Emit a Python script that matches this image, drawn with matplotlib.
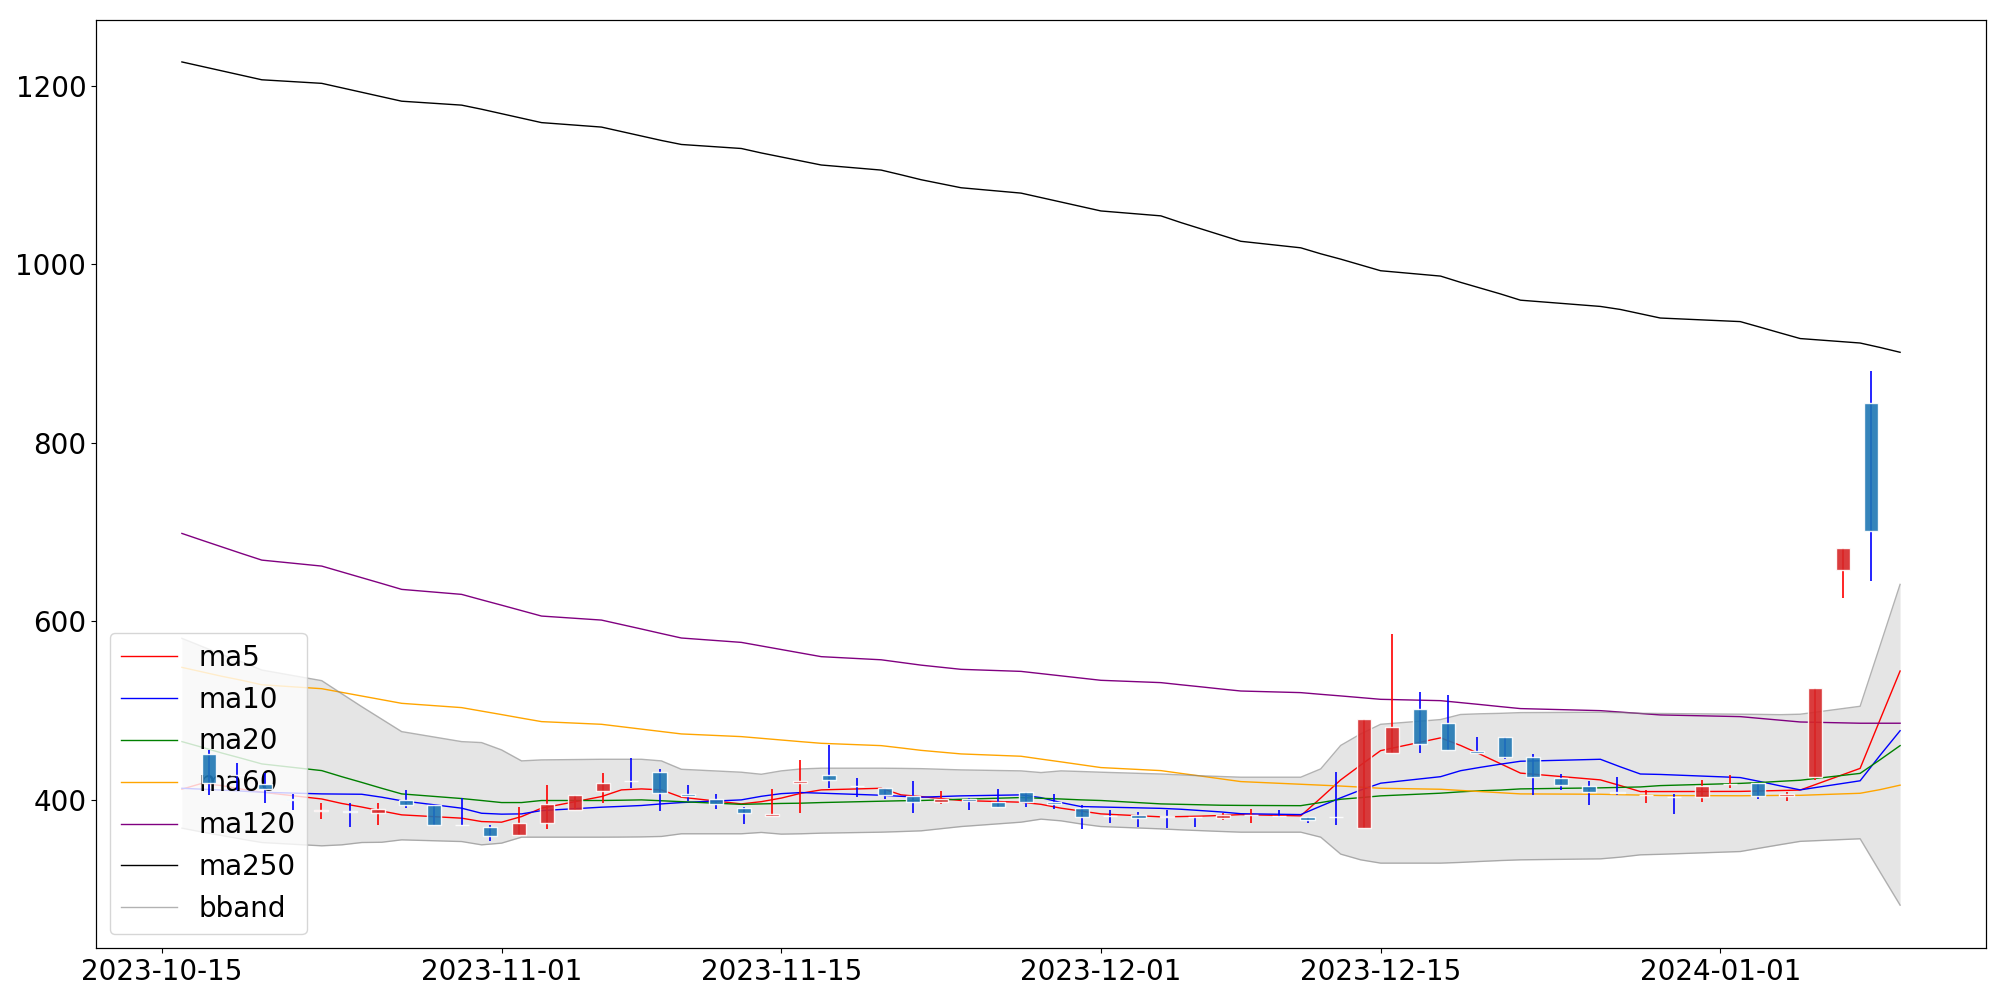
import numpy as np
import matplotlib
matplotlib.use("Agg")
import matplotlib.pyplot as plt

dates = np.array([
    "2023-10-16", "2023-10-17", "2023-10-18", "2023-10-19", "2023-10-20",
    "2023-10-23", "2023-10-24", "2023-10-25", "2023-10-26", "2023-10-27",
    "2023-10-30", "2023-10-31", "2023-11-01", "2023-11-02", "2023-11-03",
    "2023-11-06", "2023-11-07", "2023-11-08", "2023-11-09", "2023-11-10",
    "2023-11-13", "2023-11-14", "2023-11-15", "2023-11-16", "2023-11-17",
    "2023-11-20", "2023-11-21", "2023-11-22", "2023-11-24",
    "2023-11-27", "2023-11-28", "2023-11-29", "2023-11-30", "2023-12-01",
    "2023-12-04", "2023-12-05", "2023-12-06", "2023-12-07", "2023-12-08",
    "2023-12-11", "2023-12-12", "2023-12-13", "2023-12-14", "2023-12-15",
    "2023-12-18", "2023-12-19", "2023-12-20", "2023-12-21", "2023-12-22",
    "2023-12-26", "2023-12-27", "2023-12-28", "2023-12-29",
    "2024-01-02", "2024-01-03", "2024-01-04", "2024-01-05",
    "2024-01-08", "2024-01-09", "2024-01-10"], dtype="datetime64[D]")

open_ = [451.5, 428.0, 417.9, 400.8, 388.0, 388.0, 385.8, 400.0, 393.7, 372.3,
         370.1, 360.8, 374.6, 388.8, 410.1, 421.5, 431.7, 406.7, 401.0, 390.7,
         382.1, 419.4, 428.0, 415.9, 413.8, 404.9, 398.1, 401.1, 398.1, 409.3,
         397.4, 391.4, 382.2, 382.5, 381.5, 380.8, 380.2, 382.9, 382.2, 381.3,
         381.2, 368.3, 453.0, 501.9, 486.6, 455.2, 470.9, 448.5, 425.0, 416.0,
         408.4, 405.5, 403.1, 403.0, 417.4, 419.4, 404.5, 425.1, 658.1, 844.7]
high = [456.0, 441.0, 429.9, 406.7, 397.0, 397.0, 396.3, 411.2, 394.0, 401.9,
        372.0, 392.5, 416.4, 406.0, 429.9, 446.6, 434.3, 416.4, 406.3, 392.5,
        411.9, 444.8, 461.6, 424.3, 413.8, 421.3, 410.1, 402.6, 411.9, 409.3,
        406.3, 394.4, 388.8, 386.2, 388.8, 381.3, 385.1, 389.5, 388.8, 381.3,
        431.7, 490.3, 585.9, 521.3, 517.6, 470.2, 470.9, 451.5, 428.7, 421.3,
        426.1, 411.2, 406.3, 422.4, 428.0, 419.4, 409.3, 525.3, 682.2, 880.9]
low = [405.6, 411.0, 397.0, 388.8, 378.4, 370.0, 371.6, 390.7, 372.0, 372.0,
       353.4, 360.8, 367.2, 388.5, 397.0, 413.8, 388.0, 399.3, 389.5, 373.1,
       382.1, 385.1, 413.1, 403.7, 400.7, 385.1, 395.1, 388.8, 391.8, 391.8,
       389.5, 367.9, 374.2, 369.4, 369.0, 369.4, 376.9, 374.6, 380.6, 373.9,
       372.0, 368.3, 453.0, 452.2, 456.0, 452.2, 445.5, 405.6, 411.2, 393.7,
       405.6, 396.3, 384.0, 398.1, 413.8, 401.1, 399.3, 422.3, 626.5, 645.1]
close = [419.4, 427.7, 412.7, 399.5, 388.3, 386.0, 390.3, 394.4, 372.0, 372.0,
         359.7, 373.9, 395.5, 405.6, 419.4, 421.2, 407.5, 404.5, 395.0, 385.8,
         384.3, 421.6, 422.4, 415.6, 405.6, 397.4, 400.7, 399.3, 391.8, 397.4,
         395.1, 380.6, 381.9, 379.8, 381.2, 380.5, 383.2, 383.2, 381.9, 377.6,
         380.9, 490.3, 482.1, 462.7, 456.0, 452.6, 448.5, 425.4, 416.8, 409.3,
         408.1, 405.8, 402.8, 416.0, 417.7, 404.5, 406.3, 525.3, 682.2, 700.8]

ma5 = [412.0, 418.5, 416.0, 412.0, 408.6, 401.0, 396.0, 392.0, 387.5, 383.2,
       379.5, 375.7, 375.0, 381.3, 390.7, 403.7, 411.2, 412.3, 411.2, 403.0,
       395.5, 398.0, 402.0, 407.5, 411.2, 413.0, 405.6, 403.7, 399.3, 397.4,
       395.0, 390.7, 387.5, 384.3, 381.0, 381.3, 381.8, 382.5, 383.5, 382.1,
       402.0, 422.4, 439.0, 455.2, 469.5, 461.0, 451.0, 440.5, 430.0, 422.4,
       416.0, 409.3, 409.3, 409.5, 410.0, 410.5, 411.0, 435.3, 490.0, 544.4]
ma10 = [413.0, 412.0, 411.0, 409.8, 408.6, 406.7, 406.5, 406.3, 403.0, 399.0,
        390.7, 385.0, 384.0, 384.3, 388.0, 391.8, 392.7, 393.7, 395.5, 397.0,
        400.0, 404.0, 407.0, 408.2, 407.5, 405.2, 404.0, 403.0, 404.5, 405.6,
        402.5, 397.0, 392.5, 392.0, 390.5, 389.5, 388.0, 386.5, 384.5, 383.5,
        393.0, 402.3, 411.0, 418.7, 426.0, 432.7, 436.5, 440.0, 443.3, 445.5,
        437.0, 429.0, 428.5, 425.0, 420.5, 415.7, 411.2, 421.4, 450.0, 477.5]
ma20 = [465.3, 459.0, 452.5, 446.5, 440.3, 432.8, 426.0, 419.6, 413.0, 406.7,
        401.5, 399.3, 397.0, 397.0, 399.3, 399.3, 399.6, 400.0, 399.0, 398.0,
        395.0, 395.5, 396.0, 396.3, 397.0, 398.5, 399.0, 399.3, 400.7, 402.6,
        401.8, 401.0, 400.0, 399.3, 395.5, 395.0, 394.5, 394.0, 393.8, 393.5,
        397.0, 400.7, 402.5, 404.5, 407.5, 409.0, 410.2, 411.0, 412.3, 413.5,
        414.0, 414.5, 416.0, 418.5, 419.5, 420.8, 422.0, 429.7, 445.0, 460.8]
ma60 = [548.5, 543.5, 538.5, 534.0, 529.0, 524.6, 520.5, 516.4, 512.3, 508.2,
        503.4, 499.5, 495.6, 491.6, 487.7, 484.7, 482.0, 479.3, 476.6, 473.9,
        470.9, 469.0, 467.1, 465.2, 463.4, 460.8, 458.2, 455.5, 451.5, 448.9,
        445.7, 442.6, 439.4, 436.2, 432.8, 429.7, 426.7, 423.6, 420.5, 417.5,
        416.5, 415.5, 414.3, 413.0, 411.9, 410.6, 409.3, 408.0, 406.7, 406.3,
        405.8, 405.4, 404.9, 404.6, 404.8, 405.0, 405.1, 407.4, 411.5, 416.5]
ma120 = [698.6, 691.0, 683.5, 676.0, 668.7, 662.0, 655.5, 649.0, 642.5, 635.9,
         630.3, 624.2, 618.2, 612.1, 606.0, 601.5, 596.5, 591.5, 586.4, 581.4,
         576.5, 572.5, 568.5, 564.5, 560.5, 557.0, 554.0, 551.0, 546.3, 544.0,
         541.5, 539.0, 536.5, 534.0, 531.4, 529.0, 526.7, 524.3, 522.0, 520.2,
         518.3, 516.5, 514.6, 512.7, 511.2, 509.0, 506.8, 504.5, 502.3, 500.0,
         498.4, 496.8, 495.2, 493.3, 491.3, 489.3, 487.3, 485.9, 485.9, 485.9]
ma250 = [1227.0, 1222.0, 1217.0, 1212.0, 1207.0, 1203.0, 1198.0, 1193.0, 1188.0, 1183.0,
         1178.6, 1174.0, 1169.0, 1164.0, 1159.0, 1154.0, 1149.0, 1144.0, 1139.0, 1134.5,
         1130.0, 1125.0, 1120.5, 1116.0, 1111.5, 1105.8, 1100.5, 1095.0, 1086.0, 1080.0,
         1075.0, 1070.0, 1065.0, 1060.0, 1054.5, 1047.0, 1040.0, 1033.0, 1026.0, 1018.7,
         1012.0, 1006.0, 999.5, 993.0, 987.0, 980.0, 973.5, 967.0, 960.0, 953.0,
         949.6, 944.8, 940.0, 936.0, 929.7, 923.3, 917.0, 912.0, 907.0, 901.6]
bb_upper = [581.0, 572.0, 563.0, 554.5, 545.5, 533.6, 519.0, 504.5, 490.5, 476.5,
            465.3, 464.2, 456.0, 443.7, 444.8, 445.5, 445.5, 445.5, 443.7, 434.3,
            431.0, 428.7, 432.5, 434.7, 435.5, 435.5, 435.3, 435.0, 433.6, 432.5,
            430.6, 432.5, 431.8, 431.0, 429.0, 428.0, 427.0, 426.2, 425.4, 425.4,
            434.7, 461.0, 473.9, 484.7, 490.0, 495.7, 496.5, 497.0, 497.8, 498.2,
            497.8, 497.0, 496.8, 496.0, 495.8, 495.5, 496.0, 504.9, 573.0, 641.5]
bb_lower = [368.3, 364.0, 360.0, 356.0, 352.2, 348.5, 349.6, 352.2, 352.5, 355.2,
            353.3, 349.6, 351.5, 358.2, 358.2, 358.2, 358.3, 358.5, 359.0, 362.0,
            362.0, 363.5, 361.6, 362.0, 362.7, 363.8, 364.5, 365.3, 370.1, 375.0,
            378.4, 376.5, 373.0, 370.1, 367.5, 366.4, 365.5, 364.6, 363.8, 363.8,
            358.2, 339.2, 332.8, 329.1, 329.1, 329.9, 331.0, 332.0, 332.8, 333.9,
            335.8, 338.4, 339.0, 342.1, 346.0, 349.8, 353.5, 356.4, 319.0, 282.0]

ma_series = [("ma5", ma5, "red"), ("ma10", ma10, "blue"), ("ma20", ma20, "green"),
             ("ma60", ma60, "orange"), ("ma120", ma120, "purple"), ("ma250", ma250, "black")]

fig = plt.figure(figsize=(20, 10), dpi=100)
ax = fig.add_axes([0.048, 0.052, 0.945, 0.928])

for name, vals, col in ma_series:
    ax.plot(dates, vals, color=col, lw=1, label=name)
ax.plot(dates, bb_upper, color="gray", lw=1, alpha=0.6, label="bband")
ax.plot(dates, bb_lower, color="gray", lw=1, alpha=0.6)
ax.fill_between(dates, bb_lower, bb_upper, color="gray", alpha=0.2, lw=0)

ax.tick_params(labelsize=20)
ax.legend(loc="lower left", fontsize=20)

# candles on a twin x axis (positions by trading-day index)
o = np.array(open_); c = np.array(close); h = np.array(high); l = np.array(low)
idx = np.arange(len(o))
up = c >= o
wick_cols = np.where(up, "red", "blue")
body_cols = np.where(up, "tab:red", "tab:blue")
ax2 = ax.twiny()
ax2.vlines(idx, l, h, colors=wick_cols, lw=1.2, zorder=2)
ax2.bar(idx, c - o, bottom=o, width=0.5, color=body_cols, edgecolor="white",
        linewidth=1, alpha=0.9, zorder=3)
ax2.set_xlim(-4.0, 63.08)
ax2.set_xticks([])
ax.set_ylim(234, 1274)

fig.savefig("out.png")
